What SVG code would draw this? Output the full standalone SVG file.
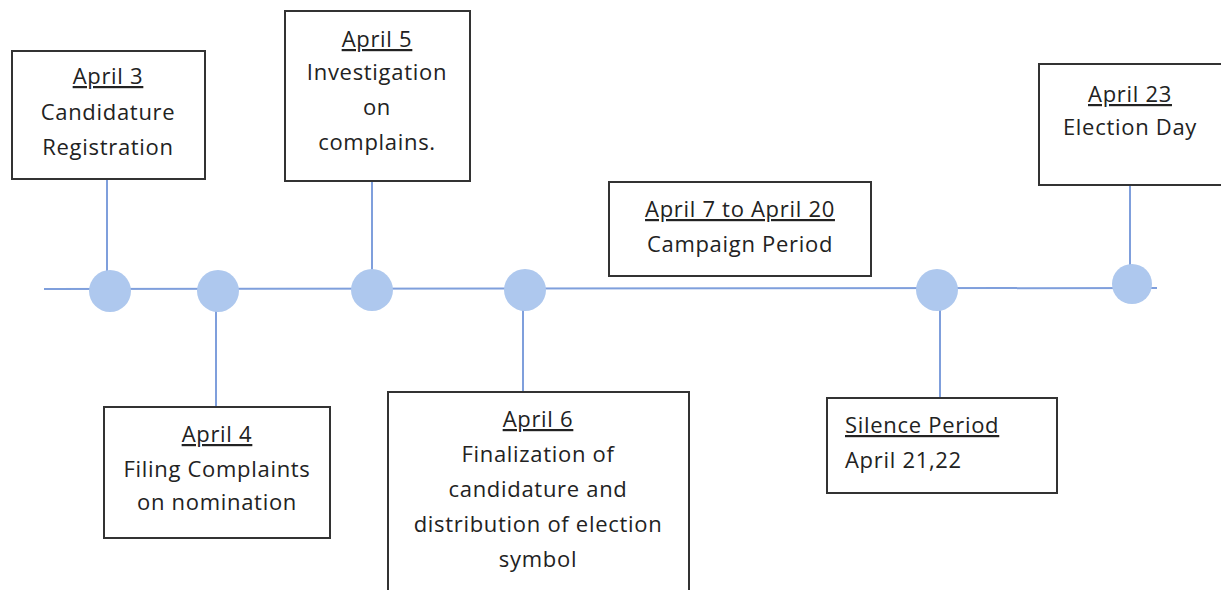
<svg xmlns="http://www.w3.org/2000/svg" width="1221" height="590" viewBox="0 0 1221 590">
<style>
.box{fill:#fff;stroke:#333;stroke-width:2}
.t{font-family:"Open Sans","Liberation Sans",sans-serif;font-size:22px;letter-spacing:0.7px;fill:#222;text-anchor:middle}
.l{text-anchor:start}
.u{text-decoration:underline}
.c{stroke:#7f9fdc;stroke-width:2;fill:none}
.dot{fill:#aec8ee}
</style>
<rect width="1221" height="590" fill="#fff"/>
<g id="connectors">
<line class="c" x1="44" y1="289" x2="1157" y2="288"/>
<line class="c" x1="107" y1="179" x2="107" y2="291"/>
<line class="c" x1="216" y1="291" x2="216" y2="407"/>
<line class="c" x1="372" y1="181" x2="372" y2="290"/>
<line class="c" x1="523" y1="290" x2="523" y2="392"/>
<line class="c" x1="940" y1="290" x2="940" y2="398"/>
<line class="c" x1="1130" y1="185" x2="1130" y2="284"/>
</g>
<g id="dots">
<circle class="dot" cx="110" cy="291" r="21"/>
<circle class="dot" cx="218" cy="291" r="21"/>
<circle class="dot" cx="372" cy="290" r="21"/>
<circle class="dot" cx="525" cy="290" r="21"/>
<circle class="dot" cx="937" cy="290" r="21"/>
<circle class="dot" cx="1132" cy="284" r="20"/>
</g>
<g id="n-april3">
<rect class="box" x="12" y="51" width="193" height="128"/>
<text class="t" x="108" y="84"><tspan class="u">April 3</tspan></text>
<text class="t" x="108" y="120">Candidature</text>
<text class="t" x="108" y="155">Registration</text>
</g>
<g id="n-april4">
<rect class="box" x="104" y="407" width="226" height="131"/>
<text class="t" x="217" y="442"><tspan class="u">April 4</tspan></text>
<text class="t" x="217" y="477">Filing Complaints</text>
<text class="t" x="217" y="510">on nomination</text>
</g>
<g id="n-april5">
<rect class="box" x="285" y="11" width="185" height="170"/>
<text class="t" x="377" y="47"><tspan class="u">April 5</tspan></text>
<text class="t" x="377" y="80">Investigation</text>
<text class="t" x="377" y="115">on</text>
<text class="t" x="377" y="150">complains.</text>
</g>
<g id="n-april6">
<rect class="box" x="388" y="392" width="301" height="210"/>
<text class="t" x="538" y="427"><tspan class="u">April 6</tspan></text>
<text class="t" x="538" y="462">Finalization of</text>
<text class="t" x="538" y="497">candidature and</text>
<text class="t" x="538" y="532">distribution of election</text>
<text class="t" x="538" y="567">symbol</text>
</g>
<g id="n-campaign">
<rect class="box" x="609" y="182" width="262" height="94"/>
<text class="t" x="740" y="217"><tspan class="u">April 7 to April 20</tspan></text>
<text class="t" x="740" y="252">Campaign Period</text>
</g>
<g id="n-silence">
<rect class="box" x="827" y="398" width="230" height="95"/>
<text class="t l" x="845" y="433"><tspan class="u">Silence Period</tspan></text>
<text class="t l" x="845" y="468">April 21,22</text>
</g>
<g id="n-april23">
<rect class="box" x="1039" y="64" width="190" height="121"/>
<text class="t" x="1130" y="102"><tspan class="u">April 23</tspan></text>
<text class="t" x="1130" y="135">Election Day</text>
</g>
</svg>
